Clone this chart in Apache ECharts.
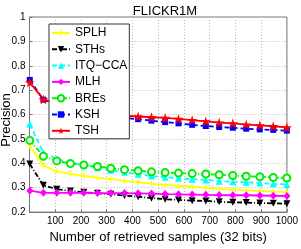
<!DOCTYPE html>
<html><head><meta charset="utf-8">
<script src="https://cdn.jsdelivr.net/npm/echarts@6/dist/echarts.min.js"></script>
<style>html,body{margin:0;padding:0;background:#fff}#c{width:301px;height:249px}</style>
</head><body><div id="c"></div>
<script>
var xs = [1, 54, 106, 159, 211, 264, 316, 369, 422, 474, 527, 579, 632, 685, 737, 790, 842, 895, 947, 1000];
var SPLH = [0.471, 0.391, 0.367, 0.357, 0.348, 0.341, 0.335, 0.328, 0.322, 0.317, 0.312, 0.308, 0.304, 0.299, 0.295, 0.292, 0.289, 0.286, 0.284, 0.282];
var STHs = [0.397, 0.310, 0.294, 0.287, 0.281, 0.277, 0.273, 0.268, 0.263, 0.257, 0.253, 0.250, 0.247, 0.246, 0.242, 0.240, 0.239, 0.237, 0.236, 0.234];
var ITQ = [0.561, 0.443, 0.418, 0.403, 0.393, 0.382, 0.372, 0.363, 0.355, 0.348, 0.343, 0.339, 0.335, 0.332, 0.327, 0.324, 0.322, 0.319, 0.316, 0.313];
var MLH = [0.288, 0.279, 0.279, 0.279, 0.279, 0.278, 0.278, 0.278, 0.277, 0.276, 0.274, 0.273, 0.272, 0.271, 0.270, 0.269, 0.269, 0.268, 0.267, 0.266];
var BRE = [0.494, 0.429, 0.410, 0.399, 0.393, 0.387, 0.380, 0.374, 0.370, 0.365, 0.362, 0.360, 0.358, 0.356, 0.353, 0.350, 0.347, 0.345, 0.342, 0.340];
var KSH = [0.742, 0.661, 0.640, 0.622, 0.610, 0.600, 0.592, 0.586, 0.581, 0.575, 0.569, 0.564, 0.558, 0.553, 0.549, 0.546, 0.542, 0.539, 0.537, 0.534];
var TSH = [0.732, 0.662, 0.645, 0.628, 0.616, 0.608, 0.601, 0.595, 0.592, 0.589, 0.586, 0.582, 0.577, 0.572, 0.567, 0.564, 0.559, 0.556, 0.552, 0.547];
var names = ['SPLH', 'STHs', 'ITQ\u2212CCA', 'MLH', 'BREs', 'KSH', 'TSH'];
var xTicks = [100, 200, 300, 400, 500, 600, 700, 800, 900, 1000];

function pts(arr) { return arr.map(function (v, i) { return [xs[i], v]; }); }
var star = 'path://M50,0L61,35H98L68,57L79,91L50,70L21,91L32,57L2,35H39Z';
var plus = 'path://M4,0H6V4H10V6H6V10H4V6H0V4H4Z';
var F = 'Liberation Sans, Arial, sans-serif';

function mk(name, data, color, type, symbol, size, extra) {
  var s = {
    name: name, type: 'line', data: pts(data), symbol: symbol, symbolSize: size,
    showAllSymbol: true, animation: false,
    lineStyle: { color: color, width: 1.8, type: type },
    itemStyle: { color: color, borderColor: color, borderWidth: 0 }
  };
  if (extra) for (var k in extra) s[k] = extra[k];
  return s;
}

var chart = echarts.init(document.getElementById('c'), null, { renderer: 'canvas' });
chart.setOption({
  animation: false,
  backgroundColor: '#fff',
  title: { text: 'FLICKR1M', left: 160, textAlign: 'center', top: 0,
    textStyle: { fontFamily: F, fontSize: 13, fontWeight: 'normal', color: '#000' } },
  graphic: [{ type: 'text', x: 6.5, y: 120, rotation: Math.PI / 2, silent: true,
    style: { text: 'Precision', fontFamily: F, fontSize: 13, fill: '#000', align: 'center', verticalAlign: 'middle' } }],
  grid: { left: 29.5, right: 10, top: 17, bottom: 26, show: true, borderColor: '#777', borderWidth: 1, backgroundColor: '#fff' },
  xAxis: {
    type: 'value', min: 0, max: 1000, interval: 100,
    name: 'Number of retrieved samples (32 bits)', nameLocation: 'middle', nameGap: 15,
    nameTextStyle: { fontFamily: F, fontSize: 13, color: '#000' },
    axisLine: { lineStyle: { color: '#777' } },
    axisTick: { inside: true, length: 3, lineStyle: { color: '#777' } },
    axisLabel: { fontFamily: F, fontSize: 10, color: '#000', margin: 4,
      formatter: function (v) { return xTicks.indexOf(v) >= 0 ? String(v) : ''; } },
    splitLine: { show: true, lineStyle: { color: '#bbb', type: [1, 2], width: 1 } }
  },
  yAxis: {
    type: 'value', min: 0.2, max: 1, interval: 0.1,
    axisLine: { show: true, lineStyle: { color: '#777' } },
    axisTick: { show: true, inside: true, length: 3, lineStyle: { color: '#777' } },
    axisLabel: { fontFamily: F, fontSize: 10, color: '#000', margin: 4,
      formatter: function (v) { return (Math.round(v * 10) / 10).toString(); } },
    splitLine: { show: true, lineStyle: { color: '#bbb', type: [1, 2], width: 1 } }
  },
  legend: {
    orient: 'vertical', left: 49, top: 24, data: names,
    backgroundColor: '#fff', borderColor: '#333', borderWidth: 1,
    padding: [3, 2, 2, 2], itemGap: 4.3, itemWidth: 18, itemHeight: 8,
    textStyle: { fontFamily: F, fontSize: 12, color: '#000', lineHeight: 12 }
  },
  series: [
    mk(names[0], SPLH, '#ffff00', 'solid', plus, 6),
    mk(names[1], STHs, '#000000', [5, 2, 1, 2], 'triangle', 7, { symbolRotate: 180 }),
    mk(names[2], ITQ, '#00ffff', [5, 3], 'triangle', 7),
    mk(names[3], MLH, '#ff00ff', 'solid', 'diamond', [7, 8]),
    mk(names[4], BRE, '#00ee00', [5, 2, 1, 2], 'emptyCircle', 7, { itemStyle: { color: '#00ee00', borderColor: '#00ee00', borderWidth: 2 } }),
    mk(names[5], KSH, '#0000ff', [5, 3], 'rect', 6),
    mk(names[6], TSH, '#ff0000', 'solid', star, 10)
  ]
});
</script></body></html>
